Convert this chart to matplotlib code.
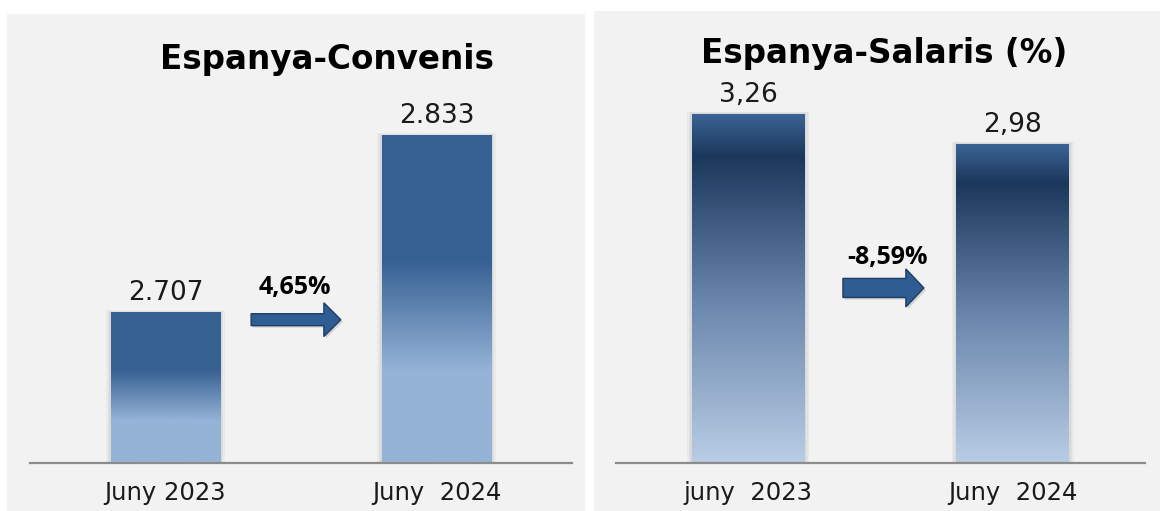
import matplotlib
matplotlib.use("Agg")
import matplotlib.pyplot as plt
import numpy as np
from matplotlib.colors import LinearSegmentedColormap
from matplotlib.patches import Rectangle, FancyArrow

# ---- data ----
left_title = "Espanya-Convenis"
left_categories = ["Juny 2023", "Juny  2024"]
left_values = [2707, 2833]
left_labels = ["2.707", "2.833"]
left_change = "4,65%"

right_title = "Espanya-Salaris (%)"
right_categories = ["juny  2023", "Juny  2024"]
right_values = [3.26, 2.98]
right_labels = ["3,26", "2,98"]
right_change = "-8,59%"

W, H = 1160, 511
fig = plt.figure(figsize=(W / 100, H / 100), dpi=100)
fig.patch.set_facecolor("white")

def fx(px):
    return px / W

def fy(py):
    return 1 - py / H

# panel backgrounds
fig.add_artist(Rectangle((fx(7), 0), fx(585 - 7), fy(14), transform=fig.transFigure,
                         facecolor="#f2f2f2", edgecolor="none", zorder=0))
fig.add_artist(Rectangle((fx(594), 0), fx(1160 - 594), fy(11), transform=fig.transFigure,
                         facecolor="#f2f2f2", edgecolor="none", zorder=0))

left_cmap = LinearSegmentedColormap.from_list(
    "lg", [(0.0, "#95B3D7"), (0.28, "#95B3D7"), (0.62, "#366092"), (1.0, "#366092")])
right_cmap = LinearSegmentedColormap.from_list(
    "rg", [(0.0, "#B9CDE5"), (0.45, "#6C88AE"), (0.88, "#1C375C"), (1.0, "#3A6394")])


def panel(rect, cats, vals, labels, ylim, bw, cmap):
    ax = fig.add_axes(rect)
    ax.set_facecolor("none")
    x = np.arange(len(cats))
    bars = ax.bar(x, vals, width=bw, color="none", edgecolor="none", zorder=2)
    grad = np.linspace(0, 1, 256).reshape(-1, 1)
    for b in bars:
        x0, y0 = b.get_x(), ylim[0]
        x1, y1 = b.get_x() + b.get_width(), b.get_height()
        # soft shadow
        for i, a in enumerate([0.04, 0.035, 0.03]):
            dx = 0.006 * (i + 1)
            ax.add_patch(Rectangle((x0 - dx, y0), (x1 - x0) + 2 * dx,
                                   (y1 - y0) + (ylim[1] - ylim[0]) * 0.002 * (i + 1),
                                   facecolor="black", alpha=a, edgecolor="none", zorder=1))
        ax.imshow(grad, extent=(x0, x1, y0, y1), origin="lower", aspect="auto",
                  cmap=cmap, zorder=3)
    for b, lab in zip(bars, labels):
        ax.annotate(lab, (b.get_x() + b.get_width() / 2, b.get_height()),
                    xytext=(0, 4.5), textcoords="offset points", ha="center", va="bottom",
                    fontsize=19, color="#1a1a1a", family="DejaVu Sans")
    ax.set_xlim(-0.5, 1.5)
    ax.set_ylim(*ylim)
    ax.set_xticks(x)
    ax.set_xticklabels(cats, fontsize=17.5, family="DejaVu Sans", color="#1a1a1a")
    ax.tick_params(axis="x", length=0, pad=13)
    ax.set_yticks([])
    for s in ["top", "left", "right"]:
        ax.spines[s].set_visible(False)
    ax.spines["bottom"].set_color("#8c8c8c")
    ax.spines["bottom"].set_linewidth(1.6)
    ax.spines["bottom"].set_zorder(5)
    return ax


# left axes: baseline y=463, top y=41.5, x 30..572
axL = panel([fx(30), fy(463), fx(572 - 30), (463 - 41.5) / H],
            left_categories, left_values, left_labels, (2600, 2900), 0.404, left_cmap)
# right axes: baseline y=463, top y=35, x 616..1145
axR = panel([fx(616), fy(463), fx(1145 - 616), (463 - 35) / H],
            right_categories, right_values, right_labels, (0, 4), 0.427, right_cmap)

fig.text(fx(327), fy(59), left_title, ha="center", va="center", fontsize=23.5,
         fontweight="bold", family="DejaVu Sans", color="black")
fig.text(fx(884), fy(53), right_title, ha="center", va="center", fontsize=23.5,
         fontweight="bold", family="DejaVu Sans", color="black")

# arrows
def arrow(ax, x0, x1, yc, w, hw, hl):
    ax.add_patch(FancyArrow(x0 + 0.008, yc - hw * 0.06, x1 - x0, 0, width=w, head_width=hw,
                            head_length=hl, length_includes_head=True,
                            facecolor="black", alpha=0.12, edgecolor="none", zorder=6))
    ax.add_patch(FancyArrow(x0, yc, x1 - x0, 0, width=w, head_width=hw, head_length=hl,
                            length_includes_head=True, facecolor="#2f5d93",
                            edgecolor="#1d3d66", linewidth=1.0, zorder=7))

arrow(axL, 0.316, 0.647, 2702, 8.5, 24, 0.0625)
arrow(axR, 0.358, 0.664, 1.636, 0.178, 0.355, 0.068)

axL.text(0.478, 2725, left_change, ha="center", va="center", fontsize=18,
         fontweight="bold", family="Open Sans", color="black", zorder=8)
axR.text(0.528, 1.925, right_change, ha="center", va="center", fontsize=18,
         fontweight="bold", family="Open Sans", color="black", zorder=8)

fig.savefig("out.png", dpi=100, facecolor="white")
